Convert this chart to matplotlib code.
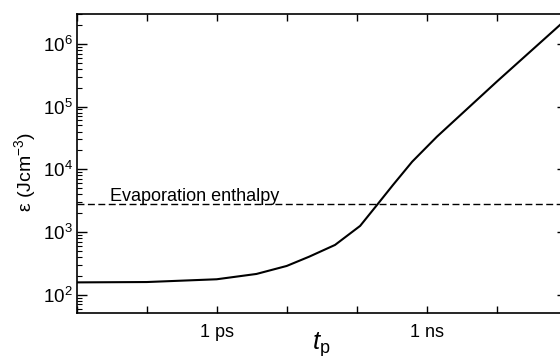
import matplotlib
matplotlib.use("Agg")
import matplotlib.pyplot as plt
import matplotlib.ticker as mticker
import numpy as np

plt.rcParams['font.family'] = ['Liberation Sans', 'DejaVu Sans']
plt.rcParams['mathtext.fontset'] = 'custom'
plt.rcParams['mathtext.rm'] = 'Liberation Sans'
plt.rcParams['mathtext.it'] = 'Liberation Sans:italic'
plt.rcParams['mathtext.bf'] = 'Liberation Sans:bold'

# pulse duration t_p (s) and energy density (J/cm^3)
t_p = [1e-14, 1e-13, 1e-12, 3.7e-12, 1e-11, 2.1e-11, 4.9e-11, 1.12e-10,
       1.9e-10, 3.3e-10, 6.2e-10, 1.4e-9, 1e-8, 1e-7]
eps = [157, 159, 176, 214, 287, 404, 621, 1250,
       2600, 5620, 1.32e4, 3.31e4, 2.49e5, 2.5e6]
evap_enthalpy = 2750
evap_label = "Evaporation enthalpy"
xtick_vals = [1e-14, 1e-13, 1e-12, 1e-11, 1e-10, 1e-9, 1e-8, 1e-7]
xtick_labels = ["", "", "1 ps", "", "", "1 ns", "", ""]

fig = plt.figure(figsize=(5.6, 3.56), dpi=100)
ax = fig.add_axes([76.7/560, 43/356, 490/560, 299.5/356])

ax.plot(t_p, eps, color='black', lw=1.5, solid_joinstyle='miter')
ax.axhline(evap_enthalpy, color='black', lw=1.0, dashes=(5, 2.5))
ax.text(3e-14, evap_enthalpy*1.15, evap_label, fontsize=13, ha='left', va='baseline')

ax.set_xscale('log')
ax.set_yscale('log')
ax.set_xlim(1e-14, 1e-7)
ax.set_ylim(51, 3.05e6)

ax.set_xticks(xtick_vals)
ax.set_xticklabels(xtick_labels)
ax.xaxis.set_minor_locator(mticker.NullLocator())
ax.yaxis.set_major_locator(mticker.LogLocator(base=10, numticks=10))
ax.yaxis.set_minor_locator(mticker.LogLocator(base=10, subs=np.arange(2, 10), numticks=20))
ax.yaxis.set_major_formatter(mticker.FuncFormatter(lambda v, p: r'$\mathregular{10^{%d}}$' % round(np.log10(v))))
ax.yaxis.set_minor_formatter(mticker.NullFormatter())

ax.tick_params(axis='x', which='major', direction='in', length=5, width=1.0,
               top=True, bottom=True, labelsize=13, pad=8)
ax.tick_params(axis='y', which='major', direction='in', length=7.5, width=1.0,
               left=True, right=True, labelsize=13.5, pad=3)
ax.tick_params(axis='y', which='minor', direction='in', length=3.8, width=0.8,
               left=True, right=True)

for s in ax.spines.values():
    s.set_linewidth(1.2)

ax.set_xlabel(r'$t_{\mathrm{p}}$', fontsize=18.5, labelpad=-8)
ax.set_ylabel(r'$\mathregular{\epsilon}$ (Jcm$^{\mathregular{-3}}$)', fontsize=14)
ax.yaxis.set_label_coords(-0.08, 0.47)

fig.savefig('out.png', dpi=100)
